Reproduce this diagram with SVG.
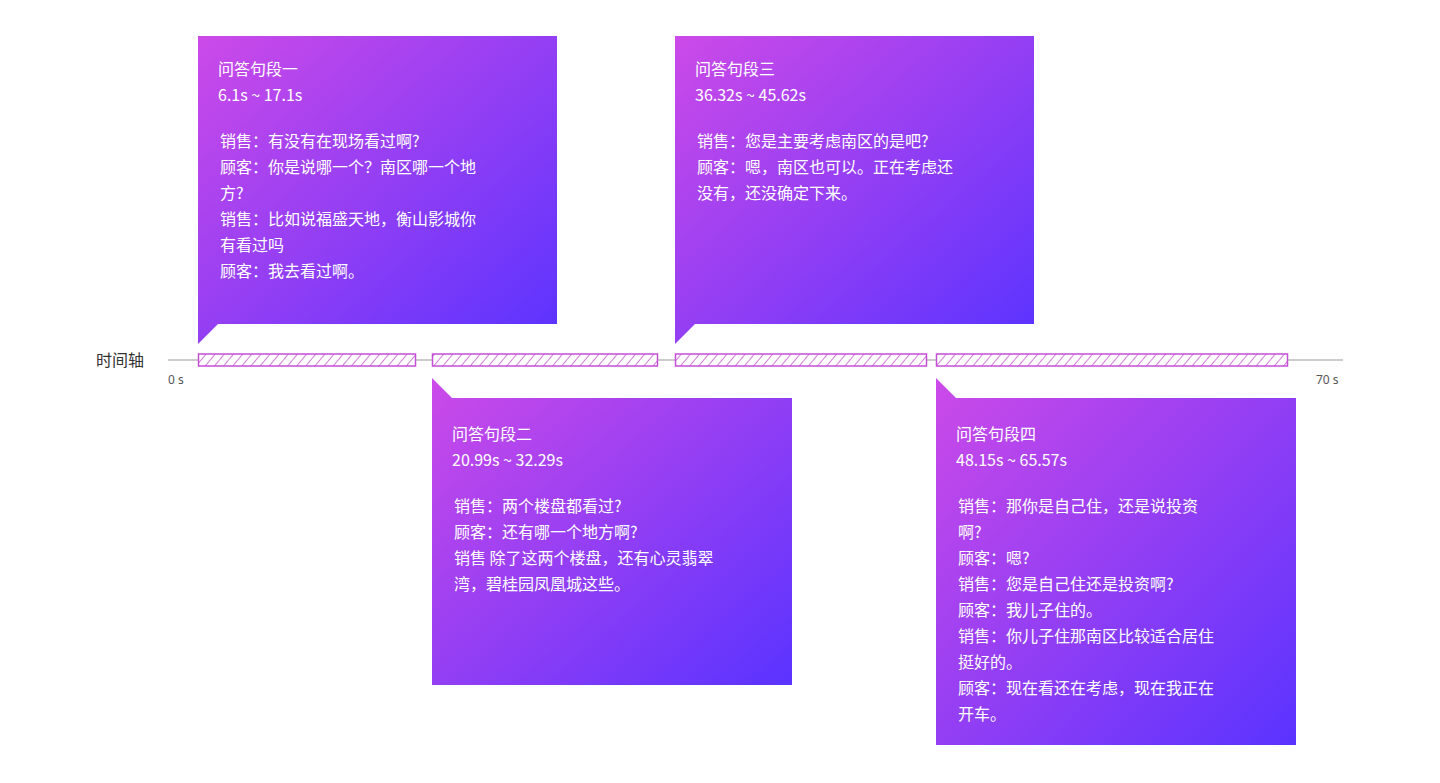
<svg xmlns="http://www.w3.org/2000/svg" width="1440" height="783" viewBox="0 0 1440 783">
<defs>
<linearGradient id="g" x1="0" y1="0" x2="1" y2="1"><stop offset="0" stop-color="#cc4ae8"/><stop offset="1" stop-color="#5a33ff"/></linearGradient>
<pattern id="h" width="7" height="7" patternUnits="userSpaceOnUse" patternTransform="rotate(40)"><rect width="7" height="7" fill="#fff"/><line x1="0" y1="0" x2="0" y2="7" stroke="#cc5ad8" stroke-width="1.6"/></pattern>
<style>
.t{font-family:"Noto Sans CJK SC","Noto Sans",sans-serif;font-size:16px;fill:#fff}
.bar{fill:url(#h);stroke:#c44fd6;stroke-width:1.5}
.ax{font-family:"Noto Sans","Noto Sans CJK SC",sans-serif;font-size:12px;fill:#555}
.box{fill:url(#g)}
</style>
</defs>
<g id="axis">
<line x1="168" y1="360" x2="1343" y2="360" stroke="#999" stroke-width="1"/>
<text x="96" y="366" style="font-family:'Noto Sans CJK SC',sans-serif;font-size:16px;fill:#333">时间轴</text>
<text x="168" y="384" class="ax">0 s</text>
<text x="1316" y="384" class="ax">70 s</text>
</g>
<g id="connectors">
<rect class="bar" x="198.5" y="354" width="217" height="12"/>
<rect class="bar" x="432.5" y="354" width="225" height="12"/>
<rect class="bar" x="675.5" y="354" width="251" height="12"/>
<rect class="bar" x="936.5" y="354" width="351" height="12"/>
</g>
<g id="n1">
<path class="box" d="M198 36H557V324H218L198 344Z"/>
<text class="t" x="218" y="75">问答句段一</text><text class="t" x="218" y="101">6.1s ~ 17.1s</text>
<text class="t" x="220" y="147">销售：有没有在现场看过啊?</text>
<text class="t" x="220" y="173">顾客：你是说哪一个？南区哪一个地</text>
<text class="t" x="220" y="199">方?</text>
<text class="t" x="220" y="225">销售：比如说福盛天地，衡山影城你</text>
<text class="t" x="220" y="251">有看过吗</text>
<text class="t" x="220" y="277">顾客：我去看过啊。</text>
</g>
<g id="n2">
<path class="box" d="M432 378L452 398H792V685H432Z"/>
<text class="t" x="452" y="440">问答句段二</text><text class="t" x="452" y="466">20.99s ~ 32.29s</text>
<text class="t" x="454" y="512">销售：两个楼盘都看过?</text>
<text class="t" x="454" y="538">顾客：还有哪一个地方啊?</text>
<text class="t" x="454" y="564">销售 除了这两个楼盘，还有心灵翡翠</text>
<text class="t" x="454" y="590">湾，碧桂园凤凰城这些。</text>
</g>
<g id="n3">
<path class="box" d="M675 36H1034V324H695L675 344Z"/>
<text class="t" x="695" y="75">问答句段三</text><text class="t" x="695" y="101">36.32s ~ 45.62s</text>
<text class="t" x="697" y="147">销售：您是主要考虑南区的是吧?</text>
<text class="t" x="697" y="173">顾客：嗯，南区也可以。正在考虑还</text>
<text class="t" x="697" y="199">没有，还没确定下来。</text>
</g>
<g id="n4">
<path class="box" d="M936 378L956 398H1296V745H936Z"/>
<text class="t" x="956" y="440">问答句段四</text><text class="t" x="956" y="466">48.15s ~ 65.57s</text>
<text class="t" x="958" y="512">销售：那你是自己住，还是说投资</text>
<text class="t" x="958" y="538">啊?</text>
<text class="t" x="958" y="564">顾客：嗯?</text>
<text class="t" x="958" y="590">销售：您是自己住还是投资啊?</text>
<text class="t" x="958" y="616">顾客：我儿子住的。</text>
<text class="t" x="958" y="642">销售：你儿子住那南区比较适合居住</text>
<text class="t" x="958" y="668">挺好的。</text>
<text class="t" x="958" y="694">顾客：现在看还在考虑，现在我正在</text>
<text class="t" x="958" y="720">开车。</text>
</g>
</svg>
